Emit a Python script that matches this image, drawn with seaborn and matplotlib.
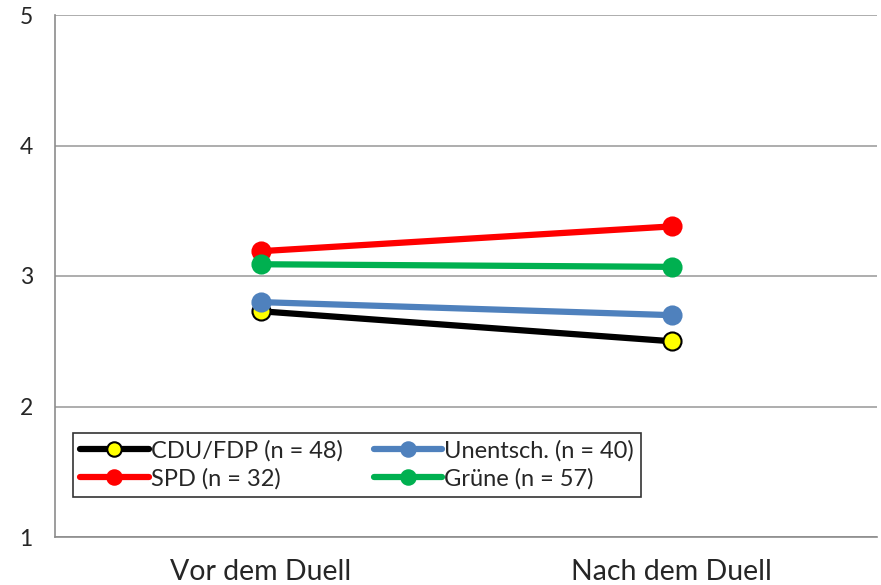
import pandas as pd
import numpy as np
import matplotlib.pyplot as plt
import seaborn as sns

# Data
categories = ["Vor dem Duell", "Nach dem Duell"]
cdu_fdp = [2.73, 2.50]
spd = [3.19, 3.38]
unentsch = [2.80, 2.70]
gruene = [3.09, 3.07]

labels = ["CDU/FDP (n = 48)", "SPD (n = 32)", "Unentsch. (n = 40)", "Grüne (n = 57)"]
values = [cdu_fdp, spd, unentsch, gruene]
line_colors = ["#000000", "#ff0000", "#4f81bd", "#00b050"]
face_colors = ["#ffff00", "#ff0000", "#4f81bd", "#00b050"]
edge_colors = ["#000000", "#ff0000", "#4f81bd", "#00b050"]

sns.set_style("white")
plt.rcParams['font.family'] = ['Lato', 'DejaVu Sans']

fig = plt.figure(figsize=(8.81, 5.85), dpi=100)
ax = fig.add_axes([55 / 881, 1 - 537 / 585, 822 / 881, 522 / 585])

for lab, vals, lc, fc, ec in zip(labels, values, line_colors, face_colors, edge_colors):
    df = pd.DataFrame({"x": np.arange(len(categories)), "y": vals})
    sns.lineplot(data=df, x="x", y="y", ax=ax, color=lc, linewidth=4.5,
                 marker="o", markersize=13, markerfacecolor=fc,
                 markeredgecolor=ec, markeredgewidth=1.5, label=lab, zorder=3)

ax.set_xlim(-0.5, 1.5)
ax.set_ylim(1, 5)
ax.set_yticks([1, 2, 3, 4, 5])
ax.set_xticks([0, 1])
ax.set_xticklabels(categories, fontsize=20.5)
ax.set_xticks([-0.5, 0.5, 1.5], minor=True)
ax.tick_params(axis="x", which="major", length=0, pad=16)
ax.tick_params(axis="x", which="minor", length=6, color="#8c8c8c", width=1)
ax.tick_params(axis="y", length=6, color="#8c8c8c", width=1, labelsize=16.5, pad=10)
ax.set_xlabel("")
ax.set_ylabel("")

ax.grid(axis="y", color="#a0a0a0", linewidth=1.2)
ax.set_axisbelow(True)
for side in ["top", "right"]:
    ax.spines[side].set_visible(False)
for side in ["left", "bottom"]:
    ax.spines[side].set_color("#8c8c8c")
    ax.spines[side].set_linewidth(1.2)

leg = ax.legend(ncol=2, loc="lower left", bbox_to_anchor=(0.022, 0.077),
                fontsize=17, frameon=True, fancybox=False, borderpad=0.3,
                handlelength=2.9, handletextpad=0.1, columnspacing=1.3,
                labelspacing=0.3, borderaxespad=0, markerscale=0.8)
leg.get_frame().set_edgecolor("#000000")
leg.get_frame().set_linewidth(1.2)

fig.savefig("out.png", dpi=100)
